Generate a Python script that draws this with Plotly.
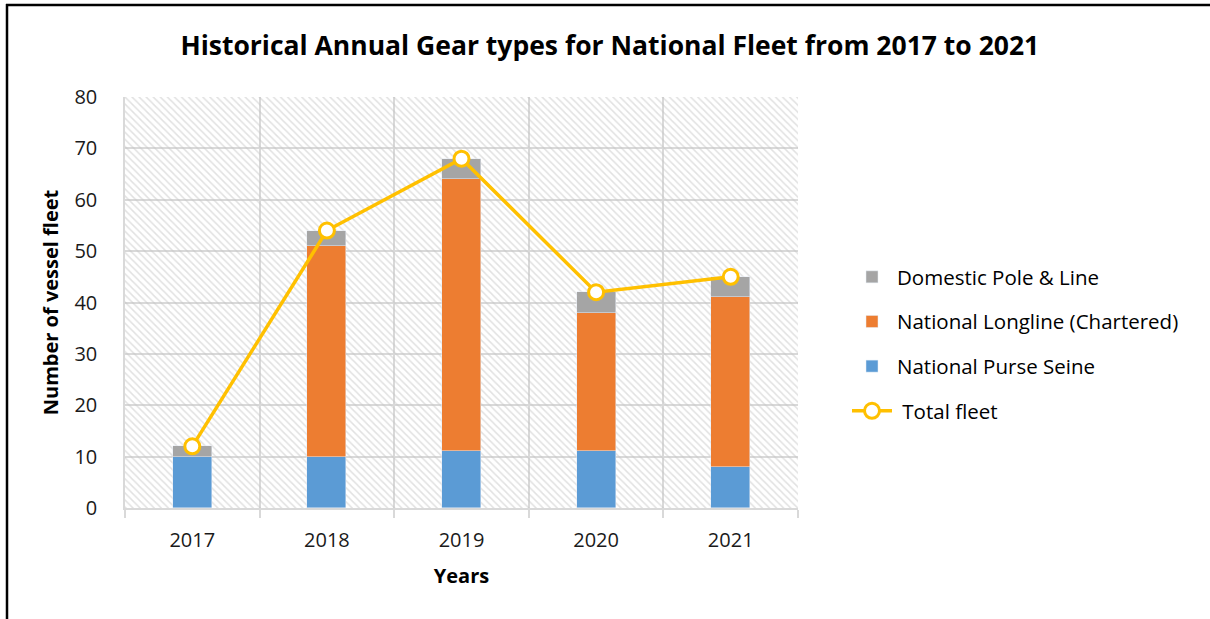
import plotly.graph_objects as go

years = ["2017", "2018", "2019", "2020", "2021"]
purse_seine = [10, 10, 11, 11, 8]
longline = [0, 41, 53, 27, 33]
pole_line = [2, 3, 4, 4, 4]
total_fleet = [12, 54, 68, 42, 45]

FONT = "Open Sans"
L, R, T, B = 125, 412, 97, 111
PW = 1210 - L - R
PH = 619 - T - B

fig = go.Figure()

# hatched plot-area background (base axes)
fig.add_trace(go.Bar(
    x=[2], y=[80], width=[5], xaxis="x", yaxis="y",
    marker=dict(color="rgba(0,0,0,0)", line=dict(width=0),
                pattern=dict(shape="\\", fgcolor="#c4c4c4", bgcolor="rgba(0,0,0,0)",
                             size=5, solidity=0.3)),
    showlegend=False, hoverinfo="skip"))

fig.add_trace(go.Bar(x=years, y=purse_seine, name="National Purse Seine",
                     marker=dict(color="#5B9BD5"), xaxis="x2", yaxis="y2",
                     width=0.29, legendrank=3, legendgroup="c"))
fig.add_trace(go.Bar(x=years, y=longline, name="National Longline (Chartered)",
                     marker=dict(color="#ED7D31"), xaxis="x2", yaxis="y2",
                     width=0.29, legendrank=2, legendgroup="b"))
fig.add_trace(go.Bar(x=years, y=pole_line, name="Domestic Pole & Line",
                     marker=dict(color="#A5A5A5"), xaxis="x2", yaxis="y2",
                     width=0.29, legendrank=1, legendgroup="a"))
fig.add_trace(go.Scatter(x=years, y=total_fleet, name=" Total fleet", mode="lines+markers",
                         line=dict(color="#FFC000", width=3.5),
                         marker=dict(size=15, color="white", line=dict(color="#FFC000", width=3)),
                         xaxis="x2", yaxis="y2", legendrank=4, legendgroup="d"))

def px_x(p):
    return (p - L) / PW

def px_y(p):
    return (619 - B - p) / PH

shapes = [
    dict(type="line", xref="paper", yref="paper", x0=px_x(7), x1=px_x(7),
         y0=px_y(4), y1=px_y(619), line=dict(color="black", width=2.5)),
    dict(type="line", xref="paper", yref="paper", x0=px_x(6), x1=px_x(1210),
         y0=px_y(5), y1=px_y(5), line=dict(color="black", width=2.5)),
]

fig.update_layout(
    width=1210, height=619,
    margin=dict(l=L, r=R, t=T, b=B),
    paper_bgcolor="white", plot_bgcolor="white",
    barmode="stack", bargap=0,
    font=dict(family=FONT, color="#1a1a1a", size=20),
    title=dict(text="<b>Historical Annual Gear types for National Fleet from 2017 to 2021</b>",
               x=0.504, xanchor="center", y=1 - 46 / 619, yanchor="middle", yref="container",
               font=dict(size=26.5, color="black", family=FONT)),
    xaxis=dict(range=[-0.5, 4.5], tickvals=[-0.5, 0.5, 1.5, 2.5, 3.5, 4.5],
               showticklabels=False, showgrid=True, gridcolor="#d9d9d9", gridwidth=1.5,
               ticks="outside", ticklen=8, tickcolor="#d9d9d9", tickwidth=1.5,
               showline=True, linecolor="#d9d9d9", linewidth=1.5, zeroline=False),
    yaxis=dict(range=[0, 80], tickvals=[0, 10, 20, 30, 40, 50, 60, 70, 80],
               showgrid=True, gridcolor="#d9d9d9", gridwidth=1.5, zeroline=False,
               showline=True, linecolor="#d9d9d9", linewidth=1.5,
               ticks="", ticklabelstandoff=22,
               title=dict(text="<b>Number of vessel fleet</b>", standoff=10,
                          font=dict(size=20, color="black"))),
    xaxis2=dict(overlaying="x", range=[-0.5, 4.5], type="category",
                categoryorder="array", categoryarray=years, showgrid=False,
                ticks="", ticklabelstandoff=18, side="bottom",
                title=dict(text="<b>Years</b>", standoff=16,
                           font=dict(size=20, color="black"))),
    yaxis2=dict(overlaying="y", range=[0, 80], visible=False),
    legend=dict(x=px_x(847), y=px_y(257), xanchor="left", yanchor="top",
                font=dict(size=20.5, color="black"), tracegroupgap=15,
                bgcolor="rgba(0,0,0,0)", itemwidth=40),
    shapes=shapes,
)

fig.write_html("out.html", config={"displayModeBar": False},
               post_script="document.body.style.margin='0';")
